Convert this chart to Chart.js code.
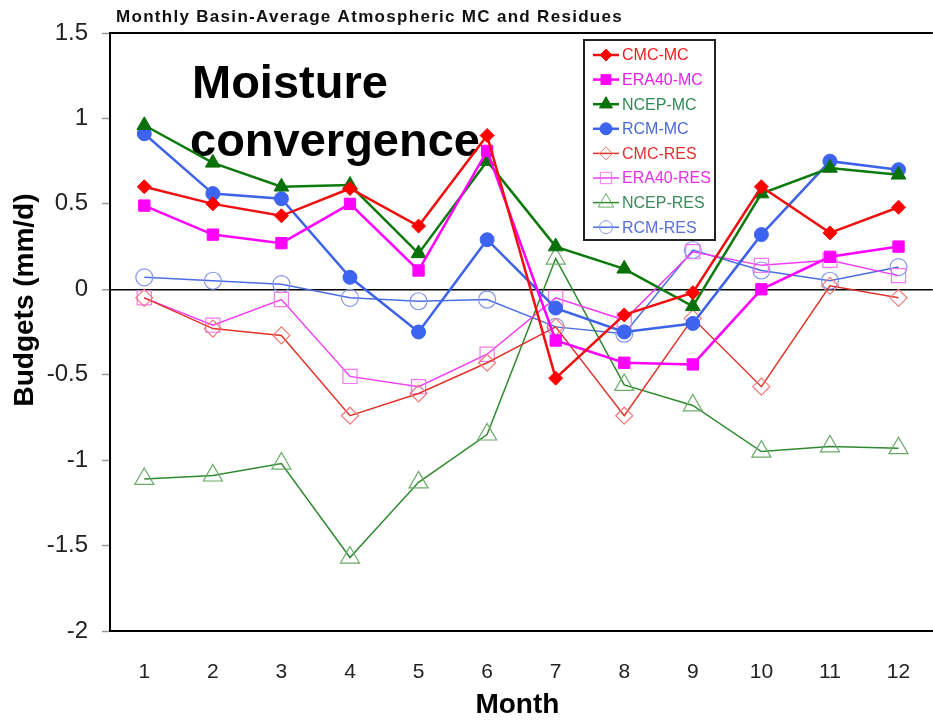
<!DOCTYPE html>
<html>
<head>
<meta charset="utf-8">
<script src="https://cdn.jsdelivr.net/npm/chart.js@4/dist/chart.umd.min.js"></script>
<style>
  html, body { margin: 0; padding: 0; background: #fff; overflow: hidden; }
  #wrap { width: 945px; height: 721px; position: relative; }
</style>
</head>
<body>
<div id="wrap"><canvas id="line-chart"></canvas></div>
<script>
var months = ['1', '2', '3', '4', '5', '6', '7', '8', '9', '10', '11', '12'];

var cmcMC   = [0.60, 0.50, 0.43, 0.59, 0.37, 0.90, -0.52, -0.15, -0.02, 0.60, 0.33, 0.48];
var era40MC = [0.49, 0.32, 0.27, 0.50, 0.11, 0.81, -0.30, -0.43, -0.44, 0.00, 0.19, 0.25];
var ncepMC  = [0.96, 0.74, 0.60, 0.61, 0.21, 0.75, 0.25, 0.12, -0.10, 0.56, 0.71, 0.67];
var rcmMC   = [0.91, 0.56, 0.53, 0.07, -0.25, 0.29, -0.11, -0.25, -0.20, 0.32, 0.75, 0.70];

var cmcRES   = [-0.05, -0.23, -0.27, -0.74, -0.61, -0.43, -0.22, -0.74, -0.17, -0.57, 0.02, -0.05];
var era40RES = [-0.05, -0.21, -0.06, -0.51, -0.57, -0.38, -0.05, -0.18, 0.22, 0.14, 0.17, 0.08];
var ncepRES  = [-1.11, -1.09, -1.02, -1.57, -1.13, -0.85, 0.18, -0.56, -0.68, -0.95, -0.92, -0.93];
var rcmRES   = [0.07, 0.05, 0.03, -0.05, -0.07, -0.06, -0.22, -0.26, 0.23, 0.11, 0.05, 0.13];

var yTicks = [1.5, 1, 0.5, 0, -0.5, -1, -1.5, -2];

var SANS = '"Liberation Sans", Arial, sans-serif';

// one line series; filled = MC (thick), open = RES (thin)
function series(label, data, line, mark, text, style, r, filled) {
  return {
    label: label,
    data: data,
    borderColor: line,
    borderWidth: filled ? 2.5 : 1.5,
    pointStyle: style,
    pointRadius: r,
    pointHoverRadius: r,
    pointBackgroundColor: filled ? mark : 'rgba(0,0,0,0)',
    pointBorderColor: mark,
    pointBorderWidth: filled ? 1 : 1.2,
    tension: 0,
    fill: false,
    legendText: text,
    legendR: filled ? r - 1 : r - 2
  };
}

var datasets = [
  series('CMC-MC', cmcMC, '#f01010', '#ff0000', '#f02020', 'rectRot', 7, true),
  series('ERA40-MC', era40MC, '#ff00ff', '#ff00ff', '#e820e8', 'rect', 8, true),
  series('NCEP-MC', ncepMC, '#0c7a0c', '#0a700a', '#2e8b57', 'triangle', 8.5, true),
  series('RCM-MC', rcmMC, '#3f63e8', '#3c64f0', '#4a68d8', 'circle', 7, true),
  series('CMC-RES', cmcRES, '#e0342a', '#f07a7a', '#e03030', 'rectRot', 8.5, false),
  series('ERA40-RES', era40RES, '#f23cf2', '#f07af0', '#e830e8', 'rect', 10, false),
  series('NCEP-RES', ncepRES, '#2f8a2f', '#6aaa6a', '#3a8a5a', 'triangle', 11, false),
  series('RCM-RES', rcmRES, '#4a6ee0', '#8494ec', '#5a70d8', 'circle', 8.5, false)
];

function marker(ctx, style, x, y, r, fill, stroke, lw) {
  ctx.beginPath();
  if (style === 'circle') {
    ctx.arc(x, y, r, 0, Math.PI * 2);
  } else if (style === 'rect') {
    var s = r * Math.SQRT1_2;
    ctx.rect(x - s, y - s, 2 * s, 2 * s);
  } else if (style === 'rectRot') {
    ctx.moveTo(x, y - r); ctx.lineTo(x + r, y); ctx.lineTo(x, y + r); ctx.lineTo(x - r, y);
    ctx.closePath();
  } else {
    for (var i = 0; i < 3; i++) {
      var a = i * Math.PI * 2 / 3;
      var px = x + Math.sin(a) * r, py = y - Math.cos(a) * r;
      if (i === 0) ctx.moveTo(px, py); else ctx.lineTo(px, py);
    }
    ctx.closePath();
  }
  if (fill) { ctx.fillStyle = fill; ctx.fill(); }
  ctx.lineWidth = lw;
  ctx.strokeStyle = stroke;
  ctx.stroke();
}

var extras = {
  id: 'extras',
  beforeDatasetsDraw: function(chart) {
    var ctx = chart.ctx;
    ctx.save();
    ctx.fillStyle = '#000';
    ctx.font = 'bold 47px ' + SANS;
    ctx.textBaseline = 'alphabetic';
    ctx.textAlign = 'left';
    ctx.fillText('Moisture', 192, 98);
    ctx.fillText('convergence', 190, 156);
    ctx.restore();
  },
  afterDraw: function(chart) {
    var ctx = chart.ctx, area = chart.chartArea;
    ctx.save();
    // top frame line
    ctx.strokeStyle = '#000';
    ctx.lineWidth = 2;
    ctx.beginPath();
    ctx.moveTo(area.left, area.top);
    ctx.lineTo(area.right, area.top);
    ctx.stroke();

    // title
    ctx.fillStyle = '#111';
    ctx.font = 'bold 17px ' + SANS;
    ctx.textAlign = 'left';
    ctx.textBaseline = 'alphabetic';
    if ('letterSpacing' in ctx) ctx.letterSpacing = '1.3px';
    ctx.fillText('Monthly Basin-Average Atmospheric MC and Residues', 116, 22);
    if ('letterSpacing' in ctx) ctx.letterSpacing = '0px';

    // axis titles
    ctx.fillStyle = '#000';
    ctx.font = 'bold 28px ' + SANS;
    ctx.textAlign = 'center';
    ctx.textBaseline = 'middle';
    ctx.fillText('Month', (area.left + area.right) / 2 - 4, 705);

    ctx.save();
    ctx.translate(25, 300);
    ctx.rotate(-Math.PI / 2);
    ctx.font = 'bold 28px ' + SANS;
    ctx.fillText('Budgets (mm/d)', 0, 0);
    ctx.restore();

    // legend box
    var bx = 584, by = 40, bw = 131, bh = 200;
    ctx.fillStyle = '#fff';
    ctx.fillRect(bx, by, bw, bh);
    ctx.strokeStyle = '#222';
    ctx.lineWidth = 2;
    ctx.strokeRect(bx, by, bw, bh);
    ctx.font = '16px ' + SANS;
    ctx.textAlign = 'left';
    ctx.textBaseline = 'middle';
    chart.data.datasets.forEach(function(ds, i) {
      var y = 55 + i * 24.6;
      ctx.strokeStyle = ds.borderColor;
      ctx.lineWidth = ds.borderWidth;
      ctx.beginPath();
      ctx.moveTo(593, y);
      ctx.lineTo(619, y);
      ctx.stroke();
      var open = ds.pointBackgroundColor === 'rgba(0,0,0,0)';
      marker(ctx, ds.pointStyle, 606, y, ds.legendR, open ? null : ds.pointBackgroundColor, ds.pointBorderColor, 1);
      ctx.fillStyle = ds.legendText;
      ctx.fillText(ds.label, 622, y + 1);
    });
    ctx.restore();
  }
};

var mychart = document.getElementById('line-chart');
var myLineChart = new Chart(mychart, {
  type: 'line',
  data: {
    labels: months,
    datasets: datasets
  },
  options: {
    responsive: true,
    maintainAspectRatio: false,
    animation: false,
    layout: { padding: { top: 33, right: 4, left: 0, bottom: 0 } },
    plugins: {
      legend: { display: false },
      title: { display: false },
      tooltip: { enabled: false }
    },
    scales: {
      x: {
        type: 'category',
        offset: true,
        afterFit: function(s) { s.height = 90; },
        ticks: { font: { family: SANS, size: 21 }, color: '#222', padding: 29, maxRotation: 0, autoSkip: false },
        grid: { display: true, drawOnChartArea: false, drawTicks: false },
        border: { display: true, color: '#000', width: 2 }
      },
      y: {
        min: -2,
        max: 1.5,
        afterFit: function(s) { s.width = 110; },
        afterBuildTicks: function(s) { s.ticks = yTicks.map(function(v) { return { value: v }; }); },
        ticks: {
          font: { family: SANS, size: 24 },
          color: '#222',
          padding: 14,
          callback: function(v) { return String(v); }
        },
        grid: {
          drawOnChartArea: true,
          color: function(c) { return c.tick && c.tick.value === 0 ? '#000' : 'rgba(0,0,0,0)'; },
          lineWidth: function(c) { return c.tick && c.tick.value === 0 ? 1.5 : 1; },
          tickColor: '#999',
          tickLength: 8,
          tickWidth: 1.5
        },
        border: { display: true, color: '#000', width: 2 }
      }
    }
  },
  plugins: [extras]
});
</script>
</body>
</html>
